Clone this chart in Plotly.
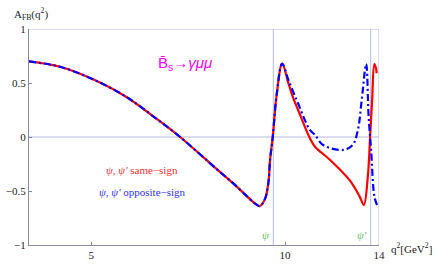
import plotly.graph_objects as go
import math

# same-sign (red, solid)
q_same = [4.0, 4.47, 5.03, 5.66, 6.30, 6.87, 7.84, 8.31, 8.83, 9.0, 9.13, 9.30, 9.42, 9.48, 9.57,
          9.71, 9.90, 10.12, 10.30, 10.48, 10.93, 11.13, 11.74, 12.60, 13.06, 13.26, 13.45,
          13.56, 13.66, 13.77, 13.86, 13.88]
a_same = [0.70, 0.65, 0.534, 0.373, 0.173, 0.0, -0.30, -0.43, -0.577, -0.62, -0.64, -0.58, -0.43,
          -0.21, 0.0, 0.40, 0.68, 0.50, 0.36, 0.25, -0.01, -0.09, -0.21, -0.40, -0.55, -0.63,
          -0.37, 0.0, 0.34, 0.676, 0.63, 0.59]

# opposite-sign (blue, dash-dot)
q_opp = [4.0, 4.47, 5.03, 5.66, 6.30, 6.87, 7.84, 8.31, 8.83, 9.0, 9.13, 9.30, 9.42, 9.48, 9.57,
         9.71, 9.90, 10.12, 10.48, 10.93, 11.13, 11.46, 12.31, 12.74, 12.98, 13.16, 13.37,
         13.49, 13.61, 13.77, 13.90]
a_opp = [0.70, 0.65, 0.534, 0.373, 0.173, 0.0, -0.30, -0.43, -0.577, -0.62, -0.64, -0.58, -0.43,
         -0.21, 0.0, 0.40, 0.68, 0.53, 0.31, 0.065, 0.02, -0.074, -0.12, -0.074, 0.065, 0.34,
         0.676, 0.19, -0.12, -0.55, -0.63]

resonances = [9.59, 13.59]
res_labels = ["<i>ψ</i>", "<i>ψ'</i>"]
res_label_q = [9.31, 13.19]
x_ticks = [5, 10, 14]
y_ticks = [-1, -0.5, 0, 0.5, 1]
y_tick_text = ["−1", "−0.5", "0", "0.5", "1"]
x_range = [4.0, 14.0]

serif = "Liberation Serif, DejaVu Serif, serif"
grid_col = "#b8b8e0"
axis_col = "#8a8aa0"
lg = math.log10

W, H = 436, 269
L, T = 29, 29
R = W - 379.5
B = H - 245
PW, PH = W - L - R, H - T - B


def px_paper(px, py):
    return (px - L) / PW, (H - B - py) / PH


fig = go.Figure()
fig.add_trace(go.Scatter(x=q_same, y=a_same, mode="lines", line_shape="spline",
                         line=dict(color="#ff0000", width=2.2), showlegend=False))
fig.add_trace(go.Scatter(x=q_opp, y=a_opp, mode="lines", line_shape="spline",
                         line=dict(color="#0000ff", width=2.2, dash="7px,3px,2px,3px"),
                         showlegend=False))

for r in resonances + [x_range[1]]:
    fig.add_shape(type="line", x0=r, x1=r, y0=-1, y1=1, xref="x", yref="y",
                  line=dict(color=grid_col, width=1), layer="below")
for yv in [0, 1]:
    fig.add_shape(type="line", x0=x_range[0], x1=x_range[1], y0=yv, y1=yv, xref="x", yref="y",
                  line=dict(color=grid_col, width=1), layer="below")

ann = []
for q, t in zip(res_label_q, res_labels):
    ann.append(dict(x=lg(q), y=-0.907, text=t, showarrow=False,
                    font=dict(family=serif, size=11, color="#66bb66")))
ann.append(dict(x=lg(6.0), y=-0.306, text="<i>ψ</i>, <i>ψ'</i> same−sign", showarrow=False,
                font=dict(family=serif, size=11, color="#ff3030")))
ann.append(dict(x=lg(6.0), y=-0.509, text="<i>ψ</i>, <i>ψ'</i> opposite−sign", showarrow=False,
                font=dict(family=serif, size=11, color="#3030ff")))
ann.append(dict(x=lg(6.3), y=0.685, xanchor="left", text="B\u0304<sub>s</sub>→<i>γμμ</i>",
                showarrow=False, font=dict(family="Liberation Sans", size=15, color="#ff00ff")))
ax, ay = px_paper(12, 14)
ann.append(dict(x=ax, y=ay, xref="paper", yref="paper", xanchor="left", yanchor="middle",
                text="A<sub>FB</sub>(q<sup>2</sup>)", showarrow=False,
                font=dict(family=serif, size=11, color="#222")))
ax, ay = px_paper(435, 248)
ann.append(dict(x=ax, y=ay, xref="paper", yref="paper", xanchor="right", yanchor="middle",
                text="q<sup>2</sup>[GeV<sup>2</sup>]", showarrow=False,
                font=dict(family=serif, size=11, color="#222")))

fig.update_layout(
    width=W, height=H,
    margin=dict(l=L, r=R, t=T, b=B, pad=0),
    paper_bgcolor="white", plot_bgcolor="white",
    annotations=ann,
    xaxis=dict(type="log", range=[lg(x_range[0]), lg(x_range[1])], automargin=False,
               tickvals=x_ticks, ticktext=[str(t) for t in x_ticks],
               showgrid=False, zeroline=False, showline=True, linecolor=axis_col, linewidth=1,
               ticks="inside", ticklen=3, tickcolor=axis_col,
               tickfont=dict(family=serif, size=11, color="#222")),
    yaxis=dict(range=[-1, 1], tickvals=y_ticks, ticktext=y_tick_text, automargin=False,
               showgrid=False, zeroline=False, showline=True, linecolor=axis_col, linewidth=1,
               ticks="inside", ticklen=3, tickcolor=axis_col,
               tickfont=dict(family=serif, size=11, color="#222")),
)
fig.write_html("out.html", config={"displayModeBar": False},
               post_script="document.body.style.margin='0';document.body.style.overflow='hidden';")
